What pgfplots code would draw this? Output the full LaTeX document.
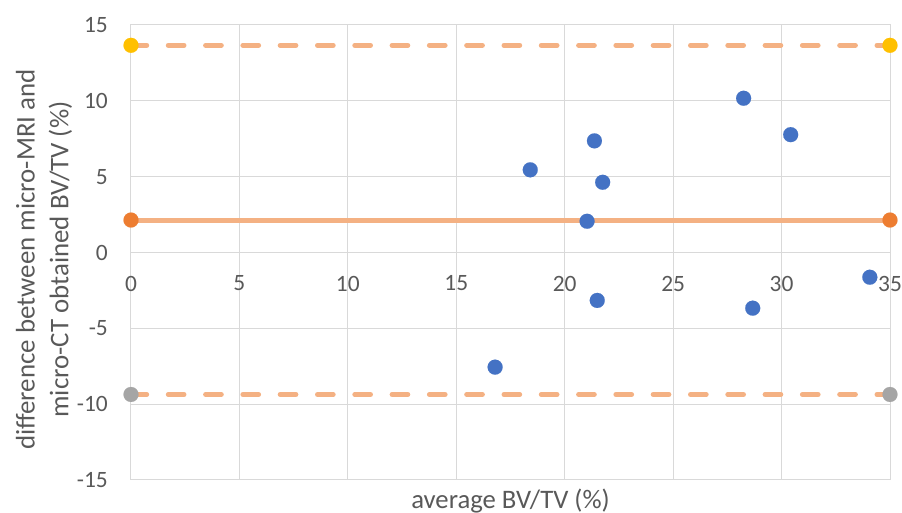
\documentclass[border=0pt]{standalone}
\usepackage{fontspec}
\setmainfont{Carlito}
\usepackage{pgfplots}
\pgfplotsset{compat=1.18}
\definecolor{txt}{HTML}{595959}
\definecolor{grd}{HTML}{D9D9D9}
\definecolor{ptblue}{HTML}{4472C4}
\definecolor{lineor}{HTML}{F4B183}
\definecolor{meanor}{HTML}{ED7D31}
\definecolor{upy}{HTML}{FFC000}
\definecolor{lowg}{HTML}{A5A5A5}
\begin{document}
\begin{tikzpicture}
\begin{axis}[
  scale only axis, width=759bp, height=455bp,
  xmin=0, xmax=35, ymin=-15, ymax=15,
  xtick={0,5,...,35}, ytick={-15,-10,...,15},
  grid=major, major grid style={draw=grd, line width=1bp},
  axis line style={draw=grd, line width=1bp},
  major tick length=0pt,
  /pgf/number format/assume math mode=true,
  ticklabel style={font=\fontsize{23.5}{28}\selectfont, text=txt},
  xticklabel style={anchor=center, inner sep=0pt, yshift=196.5bp},
  yticklabel style={anchor=east, inner sep=0pt, xshift=-23bp},
  xlabel={average BV/TV (\%)},
  xlabel style={at={(axis description cs:0.5,0)}, anchor=base, yshift=-29bp, inner sep=0pt, font=\fontsize{26.8}{32}\selectfont, text=txt},
  ylabel={difference between micro-MRI and\\micro-CT obtained BV/TV (\%)},
  ylabel style={at={(axis description cs:0,0.5)}, anchor=center, yshift=87bp, xshift=-7bp, align=center, inner sep=0pt, font=\fontsize{27}{34}\selectfont, text=txt},
  clip=false,
]
\coordinate (ll) at (rel axis cs:0,0);
\coordinate (ur) at (rel axis cs:1,1);
% limits of agreement and mean
\addplot[lineor, line width=5bp, line cap=round, dash pattern=on 15.7bp off 21.6bp,
  mark=*, mark size=7.5bp, mark options={solid, line width=0.1bp, draw=upy, fill=upy}]
  coordinates {(0,13.66) (35,13.66)};
\addplot[lineor, line width=5bp, line cap=round,
  mark=*, mark size=7.5bp, mark options={solid, line width=0.1bp, draw=meanor, fill=meanor}]
  coordinates {(0,2.14) (35,2.14)};
\addplot[lineor, line width=5bp, line cap=round, dash pattern=on 15.7bp off 21.6bp,
  mark=*, mark size=7.5bp, mark options={solid, line width=0.1bp, draw=lowg, fill=lowg}]
  coordinates {(0,-9.36) (35,-9.36)};
% data points
\addplot[only marks, mark=*, mark size=7.5bp, mark options={line width=0.1bp, draw=ptblue, fill=ptblue}]
  coordinates {
  (28.25,10.17) (30.42,7.77) (21.37,7.36) (18.41,5.45) (21.75,4.63)
  (21.03,2.06) (34.07,-1.63) (21.50,-3.16) (28.67,-3.67) (16.79,-7.56)
  };
\end{axis}
\pgfresetboundingbox
\path ([shift={(-131bp,-33bp)}]ll) rectangle ([shift={(12bp,25bp)}]ur);
\end{tikzpicture}
\end{document}
